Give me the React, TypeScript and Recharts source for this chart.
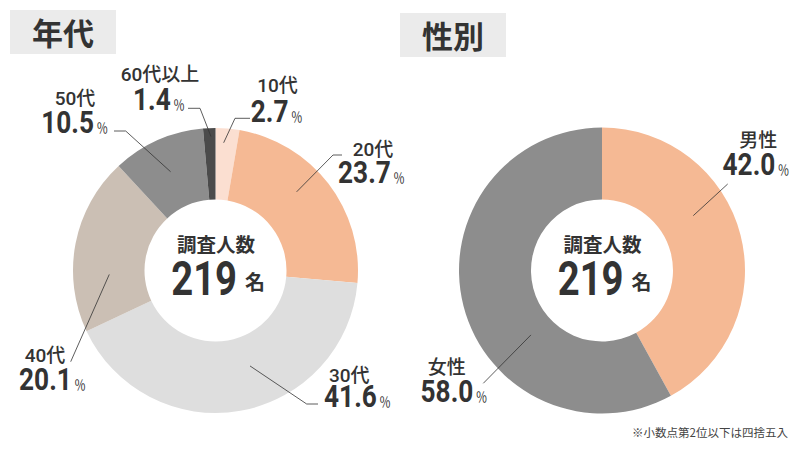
import { PieChart, Pie, Cell } from "recharts";
import type { CSSProperties } from "react";

const AGE_GROUPS = ["10代", "20代", "30代", "40代", "50代", "60代以上"];
const AGE_SHARES = [2.7, 23.7, 41.6, 20.1, 10.5, 1.4];
const AGE_COLORS = ["#fbdfd1", "#f5b994", "#dedede", "#cbbfb4", "#8d8d8d", "#4b4b4b"];

const GENDERS = ["男性", "女性"];
const GENDER_SHARES = [42.0, 58.0];
const GENDER_COLORS = ["#f5b994", "#8d8d8d"];

const RESPONDENTS = 219;
const CENTER_CAPTION = "調査人数";
const NOTE = "※小数点第2位以下は四捨五入";

const ageData = AGE_GROUPS.map((name, i) => ({ name, value: AGE_SHARES[i] }));
const genderData = GENDERS.map((name, i) => ({ name, value: GENDER_SHARES[i] }));

// label placement relative to the pie centre
// a = angle tweak from midAngle, r = leader start radius, e = elbow, hx = end of short horizontal,
// nx/nb = name x/baseline, vx/vb = value x/baseline
type LabelPos = {
  a: number; r: number; ex: number; ey: number; hx: number;
  nx: number; nb: number; vx: number; vb: number;
};

const AGE_LABEL_POS: LabelPos[] = [
  { a: 1.2, r: 128, ex: 19.5, ey: -152.2, hx: 34.5, nx: 62, nb: -178.2, vx: 61.2, vb: -148.8 },
  { a: 6.5, r: 113, ex: 117.5, ey: -115.5, hx: 126.5, nx: 157.5, nb: -115, vx: 156, vb: -87.2 },
  { a: 9.8, r: 101.5, ex: 91.2, ey: 133.5, hx: 102.5, nx: 133.7, nb: 111.2, vx: 142, vb: 136.2 },
  { a: 13.1, r: 106.3, ex: -144.8, ey: 91.2, hx: -144.8, nx: -170.5, nb: 91.2, vx: -163, vb: 119.5 },
  { a: 0.5, r: 108.5, ex: -89.8, ey: -139.5, hx: -101.5, nx: -140.5, nb: -165.5, vx: -140.8, vb: -137.2 },
  { a: -0.6, r: 134, ex: -15.5, ey: -162.2, hx: -27.5, nx: -55.5, nb: -189.8, vx: -56.5, vb: -160.5 },
];

const GENDER_LABEL_POS: LabelPos[] = [
  { a: 16.6, r: 106.5, ex: 125.7, ey: -86.5, hx: 125.7, nx: 156.3, nb: -123.5, vx: 154, vb: -95.5 },
  { a: 27.8, r: 95.9, ex: -118.7, ey: 112.8, hx: -118.7, nx: -155.3, nb: 103, vx: -148, vb: 131.2 },
];

const INK = "#333333";
const NUM_FONT = "Roboto, 'Noto Sans CJK JP', sans-serif";
const JP_FONT = "'Noto Sans CJK JP', sans-serif";
const RAD = Math.PI / 180;

function CenterText({ cx, cy }: { cx: number; cy: number }) {
  return (
    <g>
      <text x={cx + 0.5} y={cy - 19} textAnchor="middle" fill={INK} fontFamily={JP_FONT} fontSize={19.5} fontWeight={700}>
        {CENTER_CAPTION}
      </text>
      <g transform={`translate(${cx + 21.5},${cy + 24.5}) scale(0.78,1)`}>
        <text x={0} y={0} textAnchor="end" fill={INK} fontFamily={NUM_FONT} fontSize={49} fontWeight={700}>
          {RESPONDENTS}
        </text>
      </g>
      <text x={cx + 29.5} y={cy + 19.5} fill={INK} fontFamily={JP_FONT} fontSize={20} fontWeight={700}>
        名
      </text>
    </g>
  );
}

function makeLabel(layout: LabelPos[]) {
  return (props: any) => {
    const { cx, cy, midAngle, index, payload } = props;
    const p = layout[index];
    const ang = (midAngle + p.a) * RAD;
    const sx = cx + p.r * Math.cos(ang);
    const sy = cy - p.r * Math.sin(ang);
    const pts = `${sx},${sy} ${cx + p.ex},${cy + p.ey} ${cx + p.hx},${cy + p.ey}`;
    return (
      <g key={`lbl-${index}`}>
        {index === 0 && <CenterText cx={cx} cy={cy} />}
        <polyline points={pts} fill="none" stroke={INK} strokeWidth={0.8} />
        <text
          x={cx + p.nx}
          y={cy + p.nb}
          textAnchor="middle"
          fill={INK}
          fontFamily={NUM_FONT}
          fontSize={19}
          fontWeight={500}
        >
          {payload.name}
        </text>
        <g transform={`translate(${cx + p.vx},${cy + p.vb}) scale(0.86,1)`}>
          <text x={0} y={0} textAnchor="middle" fill={INK} fontFamily={NUM_FONT} fontSize={30.5} fontWeight={700}>
            {payload.value.toFixed(1)}
            <tspan fontFamily={JP_FONT} fontSize={13.5} fontWeight={400} dx={3}>％</tspan>
          </text>
        </g>
      </g>
    );
  };
}

const titleStyle = (left: number, top: number): CSSProperties => ({
  position: "absolute",
  left,
  top,
  width: 106,
  height: 44,
  background: "#ebebeb",
  color: INK,
  fontFamily: JP_FONT,
  fontWeight: 700,
  fontSize: 31,
  lineHeight: "44px",
  textAlign: "center",
});

export default function App() {
  return (
    <div style={{ position: "absolute", left: 0, top: 0, width: 800, height: 450, background: "#fff", overflow: "hidden" }}>
      <PieChart width={800} height={450}>
        <Pie
          data={ageData}
          dataKey="value"
          nameKey="name"
          cx={210.5}
          cy={265.5}
          innerRadius={71}
          outerRadius={142.5}
          startAngle={90}
          endAngle={-270}
          stroke="none"
          label={makeLabel(AGE_LABEL_POS)}
          labelLine={false}
          isAnimationActive={false}
        >
          {ageData.map((d, i) => (
            <Cell key={d.name} fill={AGE_COLORS[i]} />
          ))}
        </Pie>
        <Pie
          data={genderData}
          dataKey="value"
          nameKey="name"
          cx={597}
          cy={265.5}
          innerRadius={71}
          outerRadius={143}
          startAngle={90}
          endAngle={-270}
          stroke="none"
          label={makeLabel(GENDER_LABEL_POS)}
          labelLine={false}
          isAnimationActive={false}
        >
          {genderData.map((d, i) => (
            <Cell key={d.name} fill={GENDER_COLORS[i]} />
          ))}
        </Pie>
      </PieChart>
      <div style={titleStyle(10, 10)}>年代</div>
      <div style={titleStyle(400, 13)}>性別</div>
      <div
        style={{
          position: "absolute",
          right: 12,
          top: 424,
          fontFamily: JP_FONT,
          fontSize: 11.5,
          lineHeight: "16px",
          color: "#444",
          whiteSpace: "nowrap",
        }}
      >
        {NOTE}
      </div>
    </div>
  );
}
